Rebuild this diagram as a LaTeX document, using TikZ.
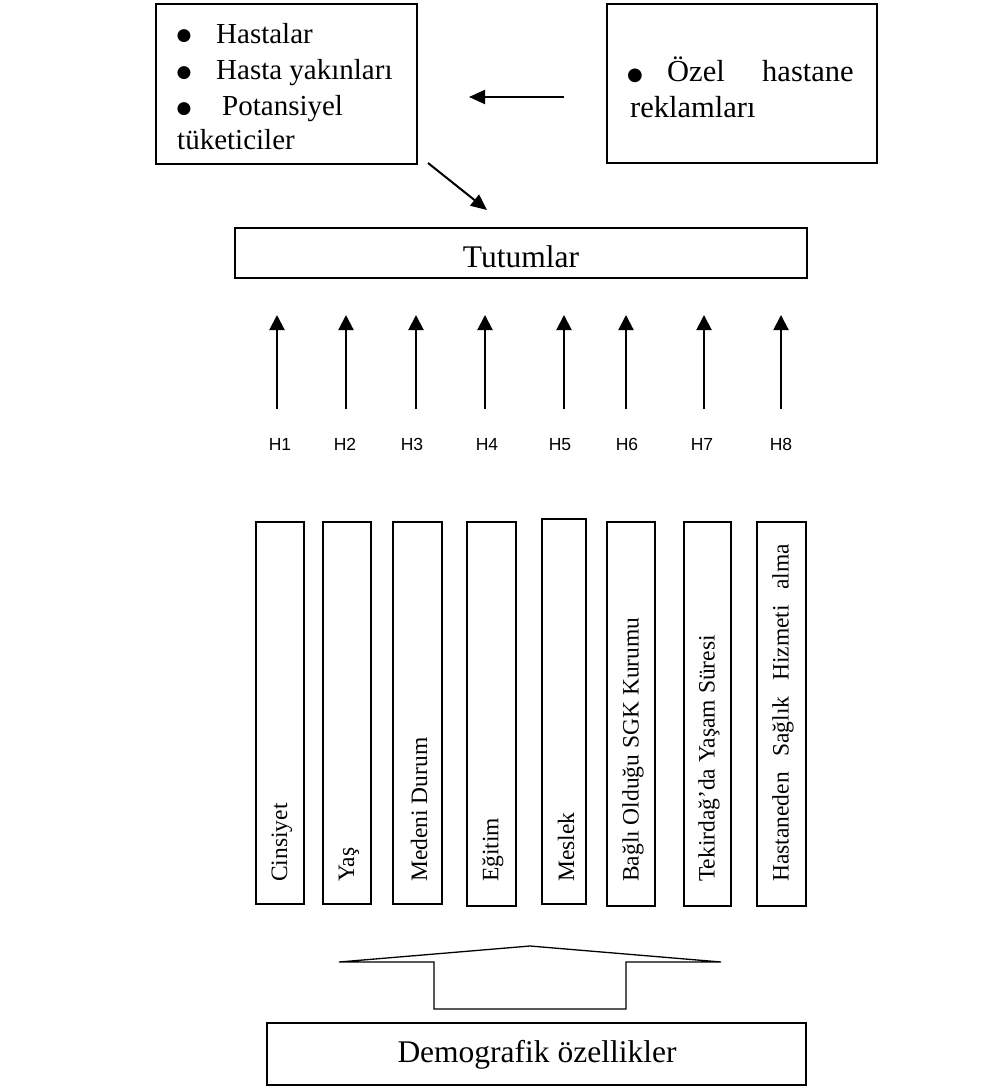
\documentclass[tikz,border=0pt]{standalone}
\usepackage{fontspec}
\setmainfont{Liberation Serif}
\newfontfamily\arialf{Liberation Sans}
\newfontfamily\dejavu{DejaVu Sans}
\usetikzlibrary{arrows.meta}
\begin{document}
\begin{tikzpicture}[x=1pt,y=-1pt,
  box/.style={draw, line width=1.3pt, inner sep=0pt, outer sep=0pt, anchor=north west},
  ttl/.style={font=\fontsize{29}{35}\selectfont, inner sep=0pt},
  ttr/.style={font=\fontsize{30.5}{36}\selectfont, inner sep=0pt},
  bul/.style={font=\dejavu\fontsize{17}{17}\selectfont, inner sep=0pt, anchor=base},
  tbig/.style={font=\fontsize{31.5}{38}\selectfont, inner sep=0pt},
  tbar/.style={font=\fontsize{23.5}{28}\selectfont, inner sep=0pt, rotate=90, anchor=west},
  hl/.style={font=\arialf\fontsize{17.5}{21}\selectfont, inner sep=0pt, anchor=base},
  ar/.style={line width=2pt, -{Triangle[length=16pt,width=14pt]}},
  uar/.style={line width=2pt, -{Triangle[length=15pt,width=15pt]}},
  chev/.style={line width=1.3pt, line join=miter}
]
\useasboundingbox (0,0) rectangle (981,1086);

% top left box
\node[box, minimum width=261pt, minimum height=160pt] (hasta) at (156,4) {};
\node[bul] (b1) at (184,41) {●};
\node[ttl, anchor=base west] (l1) at (216,44) {Hastalar};
\node[bul] (b2) at (184,78) {●};
\node[ttl, anchor=base west] (l2) at (216,80) {Hasta yakınları};
\node[bul] (b3) at (184,114) {●};
\node[ttl, anchor=base west] (l3) at (222,116) {Potansiyel};
\node[ttl, anchor=base west] (l4) at (177,150) {tüketiciler};

% top right box
\node[box, minimum width=270pt, minimum height=159pt] (reklam) at (607,4) {};
\node[bul, font=\dejavu\fontsize{18}{18}\selectfont] (rb) at (635,81) {●};
\node[ttr, anchor=base west] (r1) at (667,82) {Özel};
\node[ttr, anchor=base west] (r2) at (762,82) {hastane};
\node[ttr, anchor=base west] (r3) at (630,118) {reklamları};

% arrows at top
\coordinate (a1s) at (564,97);
\coordinate (a1e) at (469,97);
\draw[ar] (a1s) -- (a1e);
\coordinate (a2s) at (428,163);
\coordinate (a2e) at (487,210);
\draw[ar] (a2s) -- (a2e);

% Tutumlar
\node[box, minimum width=572pt, minimum height=50pt] (tutum) at (235,228) {};
\node[tbig, anchor=base] (tutumtxt) at (521,267) {Tutumlar};

% hypothesis arrows
\foreach \i/\x/\hx in {1/277/280, 2/346/345, 3/416/412, 4/485/487, 5/564/560, 6/626/627, 7/704/702, 8/781/781} {
  \coordinate (u\i s) at (\x,409);
  \coordinate (u\i e) at (\x,315);
  \draw[uar] (u\i s) -- (u\i e);
  \node[hl] (h\i) at (\hx,450) {H\i};
}

% bars
\foreach \i/\l/\w/\t/\h/\cx/\txt in {
  1/256/48/522/382/282/{Cinsiyet},
  2/323/48/522/382/349/{Yaş},
  3/393/49/522/382/419/{Medeni Durum},
  4/467/49/522/384/493/{Eğitim},
  5/542/44/519/385/566/{Meslek},
  6/607/48/522/384/633/{Bağlı Olduğu SGK Kurumu},
  7/684/47/522/384/709/{Tekirdağ’da Yaşam Süresi},
  8/757/49/522/384/783/{\makebox[338pt][s]{Hastaneden\hfill Sağlık\hfill Hizmeti\hfill alma}}} {
  \node[box, minimum width=\w pt, minimum height=\h pt] (bar\i) at (\l,\t) {};
  \node[tbar] (bt\i) at (\cx,882) {\txt};
}

% block arrow
\draw[chev] (339,962) -- (530,946) -- (721,962) -- (626,962) -- (626,1009) -- (434,1009) -- (434,962) -- cycle;

% Demografik
\node[box, minimum width=539pt, minimum height=62pt] (demo) at (267,1023) {};
\node[tbig, anchor=base] (demotxt) at (537,1062) {Demografik özellikler};
\end{tikzpicture}
\end{document}
